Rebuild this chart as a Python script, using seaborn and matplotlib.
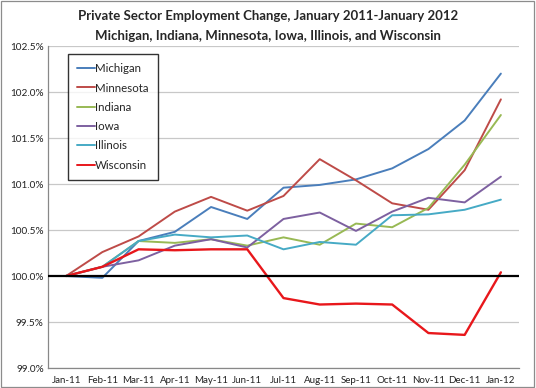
"""Private sector employment change, Jan 2011 - Jan 2012, six Midwest states."""

import matplotlib

matplotlib.use("Agg")
import matplotlib.pyplot as plt
import pandas as pd
import seaborn as sns
from matplotlib.patches import Rectangle
from matplotlib.ticker import FuncFormatter, MultipleLocator

months = ["Jan-11", "Feb-11", "Mar-11", "Apr-11", "May-11", "Jun-11", "Jul-11",
          "Aug-11", "Sep-11", "Oct-11", "Nov-11", "Dec-11", "Jan-12"]

michigan = [100.0, 99.98, 100.38, 100.48, 100.75, 100.62, 100.96,
            100.99, 101.05, 101.17, 101.38, 101.69, 102.20]
minnesota = [100.0, 100.26, 100.43, 100.70, 100.86, 100.71, 100.87,
             101.27, 101.04, 100.79, 100.72, 101.15, 101.92]
indiana = [100.0, 100.10, 100.38, 100.36, 100.40, 100.33, 100.42,
           100.34, 100.57, 100.53, 100.74, 101.21, 101.75]
iowa = [100.0, 100.10, 100.17, 100.33, 100.40, 100.31, 100.62,
        100.69, 100.49, 100.70, 100.85, 100.80, 101.08]
illinois = [100.0, 100.10, 100.38, 100.45, 100.42, 100.44, 100.29,
            100.37, 100.34, 100.66, 100.67, 100.72, 100.83]
wisconsin = [100.0, 100.10, 100.29, 100.28, 100.29, 100.29, 99.76,
             99.69, 99.70, 99.69, 99.38, 99.36, 100.04]

states = ["Michigan", "Minnesota", "Indiana", "Iowa", "Illinois", "Wisconsin"]
colors = ["#4A7EBB", "#BE4B48", "#98B954", "#7D60A0", "#46AAC5", "#E8171B"]

series = dict(zip(states, [michigan, minnesota, indiana, iowa, illinois, wisconsin]))
rows = []
for state, vals in series.items():
    for i, (m, v) in enumerate(zip(months, vals)):
        rows.append({"month": m, "pos": i, "state": state, "value": v})
df = pd.DataFrame(rows)

sns.set_style("white")
plt.rcParams["font.family"] = ["Lato", "DejaVu Sans"]

fig = plt.figure(figsize=(5.36, 3.88), dpi=100)
ax = fig.add_axes([48 / 536, 1 - 368 / 388, 471 / 536, 322 / 388])

for y in [99.0, 99.5, 100.5, 101.0, 101.5, 102.0, 102.5]:
    ax.axhline(y, color="#C8C8C8", lw=0.9, zorder=0)

sns.lineplot(data=df, x="pos", y="value", hue="state", hue_order=states,
             palette=colors, ax=ax, legend=False, sort=False)
for line, st in zip(ax.lines[-len(states):], states):
    line.set_linewidth(1.7 if st == "Wisconsin" else 1.4)

ax.axhline(100.0, color="black", lw=1.6, zorder=5)

ax.set_xlim(-0.5, 12.5)
ax.set_ylim(99.0, 102.5)
ax.set_xticks(range(len(months)))
ax.set_xticklabels(months)
ax.set_xticks([i - 0.5 for i in range(len(months) + 1)], minor=True)
ax.yaxis.set_major_locator(MultipleLocator(0.5))
ax.yaxis.set_major_formatter(FuncFormatter(lambda v, _: f"{v:.1f}%"))
ax.tick_params(axis="x", which="major", length=0, labelsize=7, pad=6, colors="#222222")
ax.tick_params(axis="x", which="minor", length=4, color="#888888", direction="out")
ax.tick_params(axis="y", length=0, labelsize=7.2, pad=3, colors="#222222")
ax.set_xlabel("")
ax.set_ylabel("")
for side in ["top", "right"]:
    ax.spines[side].set_visible(False)
for side in ["left", "bottom"]:
    ax.spines[side].set_color("#888888")
    ax.spines[side].set_linewidth(0.9)

handles = [plt.Line2D([], [], color=c, lw=1.4) for c in colors]
leg = ax.legend(handles, states, loc="upper left", bbox_to_anchor=(20 / 471, 314 / 322),
                frameon=True, fancybox=False, fontsize=8.3, handlelength=1.5,
                handletextpad=0.05, labelspacing=0.72, borderpad=0.8, borderaxespad=0)
leg.get_frame().set_edgecolor("black")
leg.get_frame().set_linewidth(1.0)
leg.set_zorder(10)

fig.text(0.5, 1 - 16 / 388, "Private Sector Employment Change, January 2011-January 2012",
         ha="center", va="center", fontsize=9.5, fontweight="bold")
fig.text(0.5, 1 - 36 / 388, "Michigan, Indiana, Minnesota, Iowa, Illinois, and Wisconsin",
         ha="center", va="center", fontsize=9.5, fontweight="bold")

fig.patches.append(Rectangle((1 / 536, 1 / 388), 533 / 536, 386 / 388, transform=fig.transFigure,
                             fill=False, edgecolor="#8C8C8C", lw=0.9))

fig.savefig("out.png", dpi=100)
